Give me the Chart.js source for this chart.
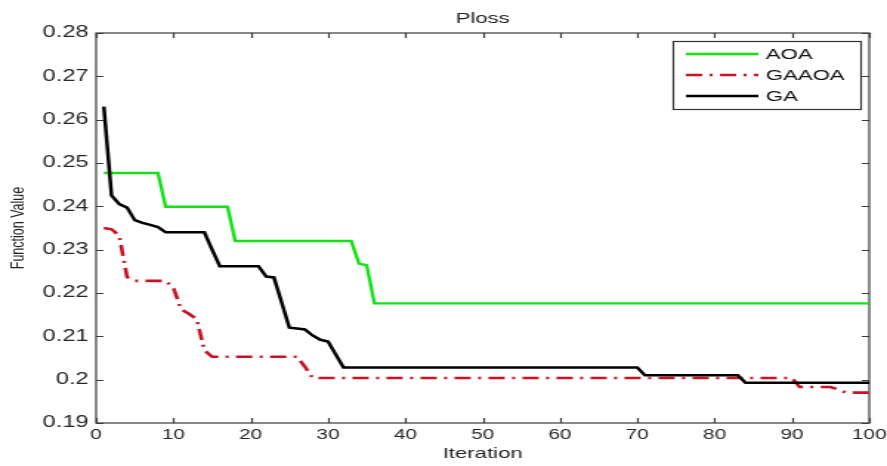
<!DOCTYPE html>
<html>
<head>
<meta charset="utf-8">
<title>Ploss</title>
<script src="https://cdn.jsdelivr.net/npm/chart.js@4"></script>
<style>
  html, body { margin: 0; padding: 0; background: #fff; overflow: hidden; }
  #wrap { width: 887px; height: 466px; overflow: hidden; }
  /* the figure is drawn narrow and widened, like the exported plot */
  #ploss { display: block; transform: scaleX(1.4783); transform-origin: 0 0; }
</style>
</head>
<body>
<div id="wrap"><canvas id="ploss" width="600" height="466"></canvas></div>
<script>
const iterations = Array.from({ length: 100 }, (_, i) => i + 1);

const aoa = [
    0.2477, 0.2477, 0.2477, 0.2477, 0.2477, 0.2477, 0.2477, 0.2477, 0.2399, 0.2399,
    0.2399, 0.2399, 0.2399, 0.2399, 0.2399, 0.2399, 0.2399, 0.2320, 0.2320, 0.2320,
    0.2320, 0.2320, 0.2320, 0.2320, 0.2320, 0.2320, 0.2320, 0.2320, 0.2320, 0.2320,
    0.2320, 0.2320, 0.2320, 0.2268, 0.2264, 0.2176, 0.2176, 0.2176, 0.2176, 0.2176,
    0.2176, 0.2176, 0.2176, 0.2176, 0.2176, 0.2176, 0.2176, 0.2176, 0.2176, 0.2176,
    0.2176, 0.2176, 0.2176, 0.2176, 0.2176, 0.2176, 0.2176, 0.2176, 0.2176, 0.2176,
    0.2176, 0.2176, 0.2176, 0.2176, 0.2176, 0.2176, 0.2176, 0.2176, 0.2176, 0.2176,
    0.2176, 0.2176, 0.2176, 0.2176, 0.2176, 0.2176, 0.2176, 0.2176, 0.2176, 0.2176,
    0.2176, 0.2176, 0.2176, 0.2176, 0.2176, 0.2176, 0.2176, 0.2176, 0.2176, 0.2176,
    0.2176, 0.2176, 0.2176, 0.2176, 0.2176, 0.2176, 0.2176, 0.2176, 0.2176, 0.2176,
];

const gaaoa = [
    0.2350, 0.2347, 0.2332, 0.2237, 0.2228, 0.2228, 0.2228, 0.2228, 0.2228, 0.2212,
    0.2162, 0.2152, 0.2140, 0.2068, 0.2053, 0.2053, 0.2053, 0.2053, 0.2053, 0.2053,
    0.2053, 0.2053, 0.2053, 0.2053, 0.2053, 0.2053, 0.2030, 0.2004, 0.2004, 0.2004,
    0.2004, 0.2004, 0.2004, 0.2004, 0.2004, 0.2004, 0.2004, 0.2004, 0.2004, 0.2004,
    0.2004, 0.2004, 0.2004, 0.2004, 0.2004, 0.2004, 0.2004, 0.2004, 0.2004, 0.2004,
    0.2004, 0.2004, 0.2004, 0.2004, 0.2004, 0.2004, 0.2004, 0.2004, 0.2004, 0.2004,
    0.2004, 0.2004, 0.2004, 0.2004, 0.2004, 0.2004, 0.2004, 0.2004, 0.2004, 0.2004,
    0.2004, 0.2004, 0.2004, 0.2004, 0.2004, 0.2004, 0.2004, 0.2004, 0.2004, 0.2004,
    0.2004, 0.2004, 0.2004, 0.2004, 0.2004, 0.2004, 0.2004, 0.2004, 0.2004, 0.2004,
    0.1983, 0.1983, 0.1983, 0.1983, 0.1983, 0.1977, 0.1970, 0.1970, 0.1970, 0.1970,
];

const ga = [
    0.2630, 0.2425, 0.2405, 0.2397, 0.2368, 0.2362, 0.2357, 0.2352, 0.2340, 0.2340,
    0.2340, 0.2340, 0.2340, 0.2340, 0.2300, 0.2262, 0.2262, 0.2262, 0.2262, 0.2262,
    0.2262, 0.2238, 0.2236, 0.2178, 0.2120, 0.2118, 0.2116, 0.2102, 0.2092, 0.2088,
    0.2058, 0.2028, 0.2028, 0.2028, 0.2028, 0.2028, 0.2028, 0.2028, 0.2028, 0.2028,
    0.2028, 0.2028, 0.2028, 0.2028, 0.2028, 0.2028, 0.2028, 0.2028, 0.2028, 0.2028,
    0.2028, 0.2028, 0.2028, 0.2028, 0.2028, 0.2028, 0.2028, 0.2028, 0.2028, 0.2028,
    0.2028, 0.2028, 0.2028, 0.2028, 0.2028, 0.2028, 0.2028, 0.2028, 0.2028, 0.2028,
    0.2010, 0.2010, 0.2010, 0.2010, 0.2010, 0.2010, 0.2010, 0.2010, 0.2010, 0.2010,
    0.2010, 0.2010, 0.2010, 0.1993, 0.1993, 0.1993, 0.1993, 0.1993, 0.1993, 0.1993,
    0.1993, 0.1993, 0.1993, 0.1993, 0.1993, 0.1993, 0.1993, 0.1993, 0.1993, 0.1993,
];

const seriesNames = ["AOA", "GAAOA", "GA"];
const chartTitle = "Ploss";
const xLabel = "Iteration";
const yLabel = "Function Value";

const FONT = "'Liberation Sans', Arial, sans-serif";
const TICK_LEN = 5;

// box around the axes with inward tick marks on all four sides
const axesBox = {
    id: "axesBox",
    beforeDatasetsDraw(chart) {
        const { ctx, chartArea: a, scales } = chart;
        ctx.save();
        ctx.strokeStyle = "#3a3a3a";
        ctx.lineWidth = 1.2;
        ctx.strokeRect(a.left, a.top, a.right - a.left, a.bottom - a.top);
        ctx.beginPath();
        scales.x.ticks.forEach((t) => {
            const px = Math.round(scales.x.getPixelForValue(t.value)) + 0.5;
            ctx.moveTo(px, a.bottom);
            ctx.lineTo(px, a.bottom - TICK_LEN);
            ctx.moveTo(px, a.top);
            ctx.lineTo(px, a.top + TICK_LEN);
        });
        scales.y.ticks.forEach((t) => {
            const py = Math.round(scales.y.getPixelForValue(t.value)) + 0.5;
            ctx.moveTo(a.left, py);
            ctx.lineTo(a.left + TICK_LEN, py);
            ctx.moveTo(a.right, py);
            ctx.lineTo(a.right - TICK_LEN, py);
        });
        ctx.stroke();

        // title
        ctx.fillStyle = "#222";
        ctx.font = "15px " + FONT;
        ctx.textAlign = "center";
        ctx.textBaseline = "alphabetic";
        ctx.fillText(chartTitle, (a.left + a.right) / 2, a.top - 10);
        ctx.restore();
    },
    afterDraw(chart) {
        const { ctx, chartArea: a } = chart;
        const w = 127, h = 68;
        const left = a.right - 6 - w, top = a.top + 8;
        ctx.save();
        ctx.fillStyle = "#fff";
        ctx.fillRect(left, top, w, h);
        ctx.strokeStyle = "#333";
        ctx.lineWidth = 1.2;
        ctx.strokeRect(left + 0.5, top + 0.5, w, h);
        ctx.font = "15px " + FONT;
        ctx.textAlign = "left";
        ctx.textBaseline = "middle";
        chart.data.datasets.forEach((ds, i) => {
            const y = top + 13 + i * 21;
            ctx.strokeStyle = ds.borderColor;
            ctx.lineWidth = ds.borderWidth;
            ctx.setLineDash(ds.borderDash || []);
            ctx.beginPath();
            ctx.moveTo(left + 9, y);
            ctx.lineTo(left + 58, y);
            ctx.stroke();
            ctx.setLineDash([]);
            ctx.fillStyle = "#111";
            ctx.fillText(ds.label, left + 63, y + 1);
        });
        ctx.restore();
    },
};

const ctx = document.getElementById("ploss").getContext("2d");

new Chart(ctx, {
    type: "line",
    data: {
        labels: iterations,
        datasets: [
            {
                label: seriesNames[0],
                data: aoa,
                borderColor: "#18e018",
                borderWidth: 2.4,
                order: 3,
            },
            {
                label: seriesNames[1],
                data: gaaoa,
                borderColor: "#cc1122",
                borderWidth: 2.6,
                borderDash: [11, 5, 2, 5],
                order: 2,
            },
            {
                label: seriesNames[2],
                data: ga,
                borderColor: "#000000",
                borderWidth: 2.5,
                order: 1,
            },
        ],
    },
    options: {
        responsive: false,
        animation: false,
        events: [],
        elements: {
            point: { radius: 0 },
            line: { tension: 0, borderCapStyle: "butt" },
        },
        layout: {
            padding: { top: 33, right: 12, bottom: 0, left: 0 },
        },
        plugins: {
            legend: { display: false },
            title: { display: false },
            tooltip: { enabled: false },
        },
        scales: {
            x: {
                type: "linear",
                min: 0,
                max: 100,
                afterFit: (scale) => {
                    scale.height = 43;
                    scale.paddingLeft = 0;
                    scale.paddingRight = 0;
                },
                grid: { display: false, drawTicks: false },
                border: { display: false },
                ticks: {
                    stepSize: 10,
                    padding: 4,
                    color: "#262626",
                    font: { family: FONT, size: 14 },
                    maxRotation: 0,
                },
                title: {
                    display: true,
                    text: xLabel,
                    color: "#222",
                    font: { family: FONT, size: 15 },
                    padding: { top: 0, bottom: 3 },
                },
            },
            y: {
                min: 0.19,
                max: 0.28,
                afterFit: (scale) => { scale.width = 65; },
                grid: { display: false, drawTicks: false },
                border: { display: false },
                ticks: {
                    stepSize: 0.01,
                    padding: 5,
                    color: "#262626",
                    font: { family: FONT, size: 16 },
                    callback: (value) => String(Number(value.toFixed(2))),
                },
                title: {
                    display: true,
                    text: yLabel,
                    color: "#222",
                    font: { family: FONT, size: 12.5 },
                    padding: { top: 5, bottom: 0 },
                },
            },
        },
    },
    plugins: [axesBox],
});
</script>
</body>
</html>
